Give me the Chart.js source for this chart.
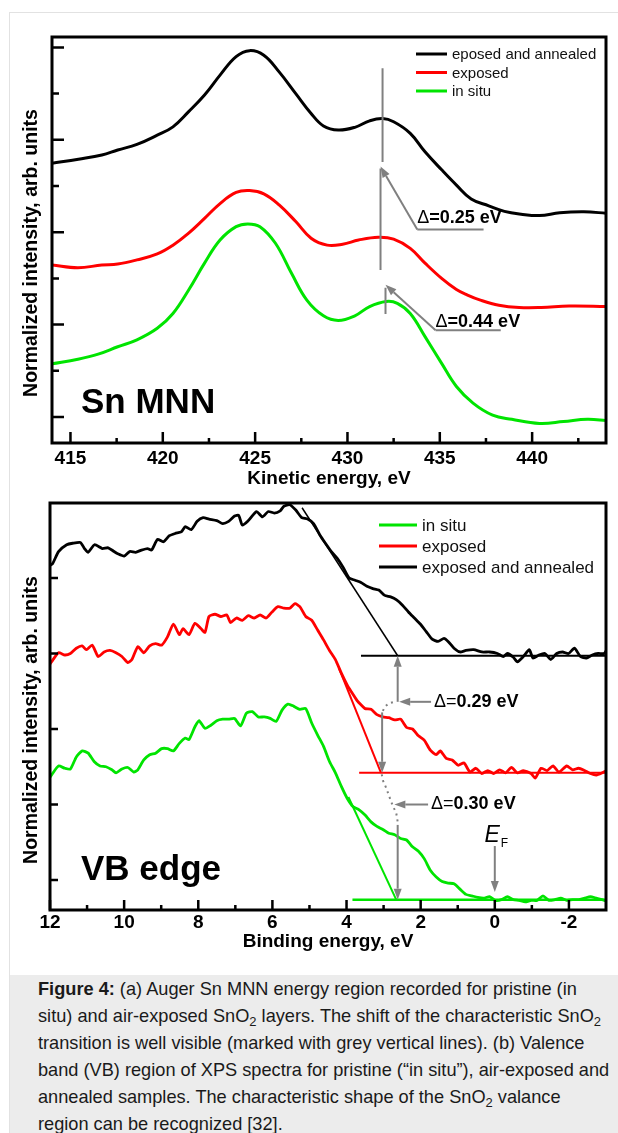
<!DOCTYPE html>
<html>
<head>
<meta charset="utf-8">
<script src="https://cdn.jsdelivr.net/npm/chart.js@4.4.1/dist/chart.umd.min.js"></script>
<style>
    html, body { margin: 0; padding: 0; background: #fff; }
    body { width: 618px; height: 1133px; position: relative; overflow: hidden; font-family: 'Liberation Sans', Arial, sans-serif; }
    .frame { position: absolute; left: 9px; top: 12px; width: 620px; height: 1130px; border: 1px solid #e2e2e2; box-sizing: border-box; }
    #augerChart { position: absolute; left: 0; top: 0; }
    #vbChart { position: absolute; left: 0; top: 495px; }
    .caption { position: absolute; left: 10px; top: 975px; width: 608px; height: 158px; background: #ececec; box-sizing: border-box; padding: 1px 0 0 28px; font-size: 18.2px; line-height: 27px; color: #1a1a1a; white-space: nowrap; }
    .caption sub { font-size: 13px; line-height: 0; vertical-align: -4px; }
</style>
</head>
<body>
<div class="frame"></div>
<canvas id="augerChart" width="618" height="495"></canvas>
<canvas id="vbChart" width="618" height="465"></canvas>
<div class="caption"><b>Figure 4:</b> (a) Auger Sn MNN energy region recorded for pristine (in<br>situ) and air-exposed SnO<sub>2</sub> layers. The shift of the characteristic SnO<sub>2</sub><br>transition is well visible (marked with grey vertical lines). (b) Valence<br>band (VB) region of XPS spectra for pristine (“in situ”), air-exposed and<br>annealed samples. The characteristic shape of the SnO<sub>2</sub> valance<br>region can be recognized [32].</div>

<script>
// ---- (a) Sn MNN Auger spectra: kinetic energy (eV) / normalized intensity (offset, arb.)
const augerKeAnnealed = [414, 415.43, 416.7, 417.56, 418.6, 419.7, 420.55, 421.4, 422.26, 423.1, 423.97, 424.7, 425.47, 426.3, 427.2, 428.03, 428.7, 429.5, 430.4, 431.2, 431.9, 432.5, 433.4, 434.2, 435.1, 435.9, 436.7, 437.65, 438.5, 439.4, 440.4, 441.5, 442.8, 444.06];
const augerAnnealed = [5.49, 5.58, 5.67, 5.78, 5.90, 6.10, 6.28, 6.61, 6.97, 7.40, 7.80, 7.93, 7.83, 7.47, 7.00, 6.57, 6.30, 6.21, 6.27, 6.41, 6.46, 6.39, 6.14, 5.74, 5.35, 5.02, 4.72, 4.57, 4.45, 4.39, 4.36, 4.42, 4.44, 4.41];

const augerKeExposed = [414, 415.4, 416.7, 417.56, 418.6, 419.7, 420.55, 421.4, 422.26, 423.1, 423.97, 424.7, 425.47, 426.3, 427.2, 428.03, 428.9, 429.74, 430.6, 431.67, 432.5, 433.4, 434.2, 435.1, 435.9, 436.5, 437.2, 438.2, 439.3, 440.5, 442, 444.06];
const augerExposed = [3.29, 3.23, 3.29, 3.31, 3.40, 3.53, 3.72, 3.98, 4.30, 4.62, 4.86, 4.90, 4.83, 4.59, 4.23, 3.87, 3.72, 3.74, 3.83, 3.89, 3.85, 3.65, 3.33, 3.00, 2.76, 2.64, 2.53, 2.42, 2.37, 2.37, 2.40, 2.39];

const augerKeInSitu = [414, 415.4, 416.5, 417.56, 418.6, 419.7, 420.55, 421.4, 422.26, 423.1, 423.97, 424.6, 425.26, 426.1, 426.97, 427.8, 428.7, 429.5, 430.4, 431.2, 432.1, 432.7, 433.4, 434.2, 435.1, 435.9, 436.8, 437.86, 438.9, 440.4, 441.7, 442.99, 444.06];
const augerInSitu = [1.15, 1.25, 1.36, 1.52, 1.67, 1.92, 2.24, 2.75, 3.33, 3.83, 4.12, 4.18, 4.12, 3.76, 3.11, 2.53, 2.19, 2.09, 2.19, 2.39, 2.50, 2.46, 2.24, 1.74, 1.16, 0.66, 0.30, 0.04, -0.05, -0.14, -0.10, -0.05, -0.08];

const augerNames = ['eposed and annealed', 'exposed', 'in situ'];
const augerMajorKe = [415, 420, 425, 430, 435, 440];
const augerMinorKe = [417.5, 422.5, 427.5, 432.5, 437.5, 442.5];
const augerMajorLevels = [0, 2, 4, 6, 8];
const augerMinorLevels = [1, 3, 5, 7];

// grey markers of the shifted transition
const augerMarkKe = [431.9, 431.79, 432.06];
const augerMarkTop = [7.55, 5.38, 2.80];
const augerMarkBottom = [5.52, 3.18, 2.23];
const augerShiftTailKe = [433.78, 434.77];
const augerShiftTailLevel = [4.06, 1.88];
const augerShiftTipKe = [431.79, 432.06];
const augerShiftTipLevel = [5.42, 2.86];
const augerShiftLineEndKe = [437.37, 438.3];
const augerShiftText = ['0.25 eV', '0.44 eV'];
const augerShiftTextLevel = [4.2, 1.95];

// ---- (b) valence band: binding energy (eV) / normalized intensity (offset, arb.)
const vbBeAnnealed = [12.06, 11.93, 11.77, 11.55, 11.39, 11.18, 11.07, 10.97, 10.8, 10.59, 10.43, 10.27, 10.17, 10.0, 9.85, 9.69, 9.53, 9.37, 9.26, 9.1, 8.94, 8.78, 8.62, 8.46, 8.35, 8.19, 8.03, 7.87, 7.71, 7.5, 7.34, 7.18, 7.02, 6.91, 6.81, 6.65, 6.43, 6.27, 6.11, 5.95, 5.79, 5.69, 5.53, 5.37, 5.21, 5.05, 4.89, 4.72, 4.57, 4.41, 4.25, 4.09, 3.93, 3.77, 3.61, 3.45, 3.29, 3.13, 2.97, 2.81, 2.65, 2.49, 2.33, 2.17, 2.01, 1.85, 1.69, 1.53, 1.37, 1.26, 1.1, 0.94, 0.78, 0.57, 0.35, 0.14, -0.07, -0.23, -0.34, -0.5, -0.61, -0.77, -0.93, -1.03, -1.19, -1.35, -1.51, -1.67, -1.83, -1.99, -2.15, -2.31, -2.47, -2.63, -2.79, -2.95, -3.06];
const vbAnnealed = [4.15, 4.19, 4.35, 4.44, 4.46, 4.47, 4.39, 4.34, 4.44, 4.39, 4.40, 4.35, 4.32, 4.29, 4.35, 4.34, 4.37, 4.39, 4.37, 4.51, 4.48, 4.56, 4.59, 4.61, 4.68, 4.64, 4.75, 4.80, 4.78, 4.76, 4.72, 4.75, 4.82, 4.83, 4.70, 4.76, 4.88, 4.81, 4.88, 4.86, 4.89, 4.95, 4.97, 4.90, 4.80, 4.78, 4.72, 4.57, 4.46, 4.35, 4.26, 4.14, 4.00, 3.97, 3.94, 3.89, 3.86, 3.84, 3.77, 3.75, 3.71, 3.64, 3.55, 3.47, 3.39, 3.29, 3.19, 3.16, 3.20, 3.16, 3.07, 3.02, 3.04, 3.05, 3.02, 3.02, 3.00, 2.96, 3.00, 2.95, 2.89, 2.96, 3.05, 2.94, 2.98, 3.00, 2.92, 3.00, 3.02, 3.00, 3.07, 2.96, 2.94, 2.98, 3.00, 3.00, 3.09];

const vbBeExposed = [12.09, 11.93, 11.77, 11.6, 11.45, 11.29, 11.13, 11.02, 10.86, 10.7, 10.54, 10.38, 10.22, 10.06, 9.9, 9.79, 9.63, 9.47, 9.31, 9.15, 8.99, 8.83, 8.67, 8.51, 8.41, 8.25, 8.09, 7.93, 7.82, 7.71, 7.55, 7.39, 7.23, 7.13, 6.97, 6.81, 6.65, 6.49, 6.33, 6.17, 6.01, 5.85, 5.69, 5.53, 5.39, 5.26, 5.1, 4.94, 4.78, 4.62, 4.46, 4.3, 4.14, 3.98, 3.88, 3.72, 3.61, 3.5, 3.34, 3.18, 3.02, 2.86, 2.7, 2.54, 2.38, 2.22, 2.06, 1.9, 1.74, 1.58, 1.47, 1.31, 1.15, 0.99, 0.83, 0.67, 0.51, 0.35, 0.19, 0.03, -0.13, -0.29, -0.45, -0.61, -0.77, -0.98, -1.09, -1.25, -1.41, -1.57, -1.73, -1.94, -2.1, -2.26, -2.42, -2.58, -2.74, -2.9, -3.06];
const vbExposed = [2.80, 2.91, 3.01, 2.98, 3.00, 3.07, 3.10, 3.05, 3.11, 2.96, 3.02, 3.04, 3.01, 2.96, 2.88, 2.92, 3.09, 3.01, 3.10, 3.13, 3.11, 3.22, 3.39, 3.25, 3.33, 3.25, 3.40, 3.33, 3.28, 3.49, 3.52, 3.49, 3.51, 3.41, 3.47, 3.44, 3.50, 3.47, 3.51, 3.47, 3.55, 3.62, 3.60, 3.60, 3.66, 3.62, 3.49, 3.44, 3.31, 3.18, 3.04, 2.92, 2.74, 2.58, 2.50, 2.38, 2.32, 2.27, 2.26, 2.19, 2.16, 2.15, 2.12, 2.13, 2.02, 2.00, 1.91, 1.85, 1.72, 1.66, 1.71, 1.61, 1.59, 1.52, 1.55, 1.43, 1.48, 1.41, 1.45, 1.41, 1.46, 1.42, 1.49, 1.42, 1.45, 1.41, 1.35, 1.48, 1.45, 1.51, 1.43, 1.51, 1.46, 1.48, 1.45, 1.41, 1.39, 1.42, 1.46];

const vbBeInSitu = [12.09, 11.93, 11.77, 11.6, 11.45, 11.29, 11.13, 10.97, 10.81, 10.65, 10.49, 10.33, 10.22, 10.06, 9.9, 9.74, 9.63, 9.47, 9.31, 9.15, 8.99, 8.83, 8.67, 8.51, 8.35, 8.25, 8.09, 7.98, 7.82, 7.66, 7.5, 7.34, 7.18, 7.02, 6.86, 6.7, 6.54, 6.38, 6.22, 6.06, 5.9, 5.74, 5.58, 5.42, 5.26, 5.1, 4.94, 4.78, 4.62, 4.46, 4.3, 4.14, 3.98, 3.82, 3.66, 3.5, 3.34, 3.18, 3.02, 2.86, 2.7, 2.54, 2.38, 2.22, 2.06, 1.9, 1.74, 1.58, 1.42, 1.26, 1.1, 0.94, 0.78, 0.62, 0.46, 0.3, 0.14, -0.02, -0.18, -0.34, -0.5, -0.66, -0.82, -0.98, -1.14, -1.3, -1.46, -1.62, -1.78, -1.94, -2.1, -2.26, -2.42, -2.58, -2.74, -2.9, -3.06];
const vbInSitu = [1.29, 1.41, 1.51, 1.48, 1.47, 1.63, 1.71, 1.68, 1.57, 1.51, 1.50, 1.46, 1.42, 1.47, 1.49, 1.43, 1.46, 1.59, 1.66, 1.68, 1.74, 1.74, 1.71, 1.81, 1.88, 1.86, 2.03, 2.11, 2.01, 2.05, 2.11, 2.13, 2.13, 2.14, 2.04, 2.21, 2.23, 2.16, 2.16, 2.14, 2.10, 2.25, 2.33, 2.30, 2.26, 2.27, 2.08, 1.92, 1.77, 1.57, 1.42, 1.24, 1.08, 0.97, 0.93, 0.86, 0.77, 0.71, 0.67, 0.62, 0.60, 0.55, 0.53, 0.44, 0.38, 0.28, 0.13, 0.04, -0.02, -0.04, -0.05, -0.12, -0.19, -0.21, -0.23, -0.24, -0.22, -0.27, -0.26, -0.22, -0.26, -0.27, -0.29, -0.27, -0.27, -0.21, -0.27, -0.26, -0.24, -0.27, -0.26, -0.26, -0.24, -0.22, -0.24, -0.26, -0.29];

const vbNames = ['in situ', 'exposed', 'exposed and annealed'];
const vbMajorBe = [12, 10, 8, 6, 4, 2, 0, -2];
const vbMinorBe = [11, 9, 7, 5, 3, 1, -1];
const vbLevels = [0, 1, 2, 3, 4];

// leading-edge fits: annealed, exposed, in situ
const vbFitStartBe = [5.2, 4.2, 3.95];
const vbFitStartLevel = [4.93, 2.80, 1.10];
const vbEdgeBe = [2.62, 3.07, 2.66];
const vbBaseStartBe = [3.61, 3.66, 3.84];
const vbBaseLevel = [2.97, 1.42, -0.26];

const vbGuide1Be = [3.02, 2.96, 2.85, 2.71];
const vbGuide1Level = [2.24, 2.30, 2.34, 2.36];
const vbGuide2Be = [3.05, 3.02, 2.93, 2.85, 2.75, 2.66, 2.62];
const vbGuide2Level = [1.40, 1.32, 1.22, 1.11, 0.98, 0.89, 0.77];

// arrows: [fromBe, fromLevel, toBe, toLevel]
const vbArrows = [
    [2.62, 2.36, 2.62, 2.97],
    [1.72, 2.36, 2.58, 2.36],
    [3.04, 2.22, 3.04, 1.42],
    [1.80, 1.00, 2.71, 1.00],
    [2.62, 0.73, 2.62, -0.26],
    [0.0, 0.45, 0.0, -0.16]
];
const vbShiftText = ['0.29 eV', '0.30 eV'];
const vbShiftTextBe = [1.64, 1.72];
const vbShiftTextLevel = [2.36, 1.00];

const BLACK = '#000000';
const RED = '#ff0000';
const GREEN = '#00e400';
const GREY = '#808080';
const FONT = "'Liberation Sans', Arial, sans-serif";

function pts(xs, ys) {
    return xs.map((x, i) => ({ x, y: ys[i] }));
}

function segment(label, xs, ys, color, width, dash) {
    return { label, data: pts(xs, ys), borderColor: color, borderWidth: width, borderDash: dash || [], pointRadius: 0, tension: 0, fill: false };
}

function drawArrow(ctx, x1, y1, x2, y2) {
    const ang = Math.atan2(y2 - y1, x2 - x1);
    const head = 11, half = 4;
    const bx = x2 - head * Math.cos(ang);
    const by = y2 - head * Math.sin(ang);
    ctx.beginPath();
    ctx.moveTo(x1, y1);
    ctx.lineTo(bx, by);
    ctx.stroke();
    ctx.beginPath();
    ctx.moveTo(x2, y2);
    ctx.lineTo(bx + half * Math.sin(ang), by - half * Math.cos(ang));
    ctx.lineTo(bx - half * Math.sin(ang), by + half * Math.cos(ang));
    ctx.closePath();
    ctx.fill();
}

// "Δ=" thin, value bold
function drawShift(ctx, x, y, value, size, boldEq) {
    ctx.textBaseline = 'middle';
    ctx.textAlign = 'left';
    ctx.font = `${size}px ${FONT}`;
    ctx.fillText('Δ', x, y);
    let w = ctx.measureText('Δ').width;
    ctx.font = `${boldEq ? 'bold ' : ''}${size}px ${FONT}`;
    ctx.fillText('=', x + w, y);
    w += ctx.measureText('=').width;
    ctx.font = `bold ${size}px ${FONT}`;
    ctx.fillText(value, x + w, y);
}

const decorPlugin = {
    id: 'decor',
    afterDatasetsDraw(chart, args, opts) {
        const { ctx, chartArea: a } = chart;
        const { x, y } = chart.scales;
        ctx.save();

        // annotations
        ctx.strokeStyle = GREY;
        ctx.fillStyle = GREY;
        ctx.lineWidth = 2;
        (opts.arrows || []).forEach(([e1, v1, e2, v2]) => {
            drawArrow(ctx, x.getPixelForValue(e1), y.getPixelForValue(v1), x.getPixelForValue(e2), y.getPixelForValue(v2));
        });
        ctx.fillStyle = BLACK;
        (opts.shifts || []).forEach(s => {
            drawShift(ctx, x.getPixelForValue(s.at[0]), y.getPixelForValue(s.at[1]), s.text, opts.shiftSize, s.boldEq);
        });
        if (opts.fermi) {
            const fx = x.getPixelForValue(opts.fermi[0]);
            const fy = y.getPixelForValue(opts.fermi[1]);
            ctx.textBaseline = 'alphabetic';
            ctx.font = `italic 23px ${FONT}`;
            ctx.fillText('E', fx, fy);
            const w = ctx.measureText('E').width;
            ctx.font = `12px ${FONT}`;
            ctx.fillText('F', fx + w + 1, fy + 5);
        }

        // frame and inward ticks
        ctx.strokeStyle = BLACK;
        ctx.lineWidth = 2.5;
        ctx.beginPath();
        const tickX = (list, len) => list.forEach(v => {
            const px = x.getPixelForValue(v);
            ctx.moveTo(px, a.bottom);
            ctx.lineTo(px, a.bottom - len);
        });
        const tickY = (list, len) => list.forEach(v => {
            const py = y.getPixelForValue(v);
            ctx.moveTo(a.left, py);
            ctx.lineTo(a.left + len, py);
        });
        tickX(opts.xMajor, opts.xLen[0]);
        tickX(opts.xMinor, opts.xLen[1]);
        tickY(opts.yMajor, opts.yLen[0]);
        tickY(opts.yMinor, opts.yLen[1]);
        ctx.stroke();
        ctx.lineWidth = 3;
        ctx.strokeRect(a.left, a.top, a.right - a.left, a.bottom - a.top);

        // legend
        const lg = opts.legend;
        ctx.font = `${lg.size}px ${FONT}`;
        ctx.textBaseline = 'middle';
        ctx.textAlign = 'left';
        lg.names.forEach((name, i) => {
            const ly = lg.y + i * lg.step;
            ctx.strokeStyle = lg.colors[i];
            ctx.lineWidth = 3;
            ctx.beginPath();
            ctx.moveTo(lg.x, ly);
            ctx.lineTo(lg.x + lg.len, ly);
            ctx.stroke();
            ctx.fillStyle = '#111';
            ctx.fillText(name, lg.x + lg.len + 5, ly + 1);
        });

        // panel label
        ctx.fillStyle = BLACK;
        ctx.font = `bold 35px ${FONT}`;
        ctx.textBaseline = 'alphabetic';
        ctx.fillText(opts.panel, opts.panelAt[0], opts.panelAt[1]);

        // y axis title
        ctx.save();
        ctx.translate(opts.yTitleAt[0], opts.yTitleAt[1]);
        ctx.rotate(-Math.PI / 2);
        ctx.font = `bold 19.5px ${FONT}`;
        ctx.textAlign = 'center';
        ctx.textBaseline = 'middle';
        ctx.fillText('Normalized intensity, arb. units', 0, 0);
        ctx.restore();

        ctx.restore();
    }
};

function axisX(min, max, major, labels, title, height, pad, titlePad, reverse) {
    return {
        type: 'linear', min, max, reverse: !!reverse,
        afterBuildTicks: s => { s.ticks = major.map(value => ({ value })); },
        afterFit: s => { s.height = height; },
        grid: { display: false, drawTicks: false },
        border: { display: false },
        ticks: {
            autoSkip: false, maxRotation: 0, padding: pad, color: BLACK,
            font: { family: FONT, size: 19, weight: 'bold' },
            callback: v => labels[major.indexOf(v)]
        },
        title: { display: true, text: title, color: BLACK, font: { family: FONT, size: 19, weight: 'bold' }, padding: { top: 0, bottom: titlePad } }
    };
}

new Chart(document.getElementById('augerChart'), {
    type: 'line',
    data: {
        datasets: [
            segment('mark 1', [augerMarkKe[0], augerMarkKe[0]], [augerMarkTop[0], augerMarkBottom[0]], GREY, 2),
            segment('mark 2', [augerMarkKe[1], augerMarkKe[1]], [augerMarkTop[1], augerMarkBottom[1]], GREY, 2),
            segment('mark 3', [augerMarkKe[2], augerMarkKe[2]], [augerMarkTop[2], augerMarkBottom[2]], GREY, 2),
            segment('leader 1', [augerShiftTailKe[0], augerShiftLineEndKe[0]], [augerShiftTailLevel[0], augerShiftTailLevel[0]], GREY, 2),
            segment('leader 2', [augerShiftTailKe[1], augerShiftLineEndKe[1]], [augerShiftTailLevel[1], augerShiftTailLevel[1]], GREY, 2),
            { label: augerNames[0], data: pts(augerKeAnnealed, augerAnnealed), borderColor: BLACK, borderWidth: 3, pointRadius: 0, tension: 0.4 },
            { label: augerNames[1], data: pts(augerKeExposed, augerExposed), borderColor: RED, borderWidth: 3, pointRadius: 0, tension: 0.4 },
            { label: augerNames[2], data: pts(augerKeInSitu, augerInSitu), borderColor: GREEN, borderWidth: 3, pointRadius: 0, tension: 0.4 }
        ]
    },
    options: {
        responsive: false,
        animation: false,
        layout: { padding: { top: 37, left: 52, right: 12, bottom: 0 } },
        plugins: {
            legend: { display: false },
            tooltip: { enabled: false },
            decor: {
                xMajor: augerMajorKe, xMinor: augerMinorKe, xLen: [11, 5],
                yMajor: augerMajorLevels, yMinor: augerMinorLevels, yLen: [12, 7],
                arrows: augerShiftTailKe.map((k, i) => [k, augerShiftTailLevel[i], augerShiftTipKe[i], augerShiftTipLevel[i]]),
                shifts: augerShiftText.map((t, i) => ({ text: t, at: [augerShiftTailKe[i], augerShiftTextLevel[i] + 0.1], boldEq: true })),
                shiftSize: 18,
                legend: { names: augerNames, colors: [BLACK, RED, GREEN], x: 416, y: 54, step: 18.5, len: 31, size: 15 },
                panel: 'Sn MNN', panelAt: [81, 413],
                yTitleAt: [31.5, 253]
            }
        },
        scales: {
            x: axisX(414, 444, augerMajorKe, augerMajorKe.map(String), 'Kinetic energy, eV', 52, 4, 5),
            y: { type: 'linear', display: false, min: -0.563, max: 8.225 }
        }
    },
    plugins: [decorPlugin]
});

new Chart(document.getElementById('vbChart'), {
    type: 'line',
    data: {
        datasets: [
            segment('guide 1', vbGuide1Be, vbGuide1Level, GREY, 2, [2, 4]),
            segment('guide 2', vbGuide2Be, vbGuide2Level, GREY, 2, [2, 4]),
            segment('fit annealed', [vbFitStartBe[0], vbEdgeBe[0]], [vbFitStartLevel[0], vbBaseLevel[0]], BLACK, 1.5),
            segment('fit exposed', [vbFitStartBe[1], vbEdgeBe[1]], [vbFitStartLevel[1], vbBaseLevel[1]], RED, 2),
            segment('fit in situ', [vbFitStartBe[2], vbEdgeBe[2]], [vbFitStartLevel[2], vbBaseLevel[2]], GREEN, 2),
            segment('base annealed', [vbBaseStartBe[0], -3], [vbBaseLevel[0], vbBaseLevel[0]], BLACK, 2),
            segment('base exposed', [vbBaseStartBe[1], -3], [vbBaseLevel[1], vbBaseLevel[1]], RED, 2),
            segment('base in situ', [vbBaseStartBe[2], -3], [vbBaseLevel[2], vbBaseLevel[2]], GREEN, 2.5),
            { label: vbNames[2], data: pts(vbBeAnnealed, vbAnnealed), borderColor: BLACK, borderWidth: 2.8, pointRadius: 0, tension: 0.2 },
            { label: vbNames[1], data: pts(vbBeExposed, vbExposed), borderColor: RED, borderWidth: 2.8, pointRadius: 0, tension: 0.2 },
            { label: vbNames[0], data: pts(vbBeInSitu, vbInSitu), borderColor: GREEN, borderWidth: 2.8, pointRadius: 0, tension: 0.2 }
        ]
    },
    options: {
        responsive: false,
        animation: false,
        layout: { padding: { top: 8, left: 50, right: 12, bottom: 0 } },
        plugins: {
            legend: { display: false },
            tooltip: { enabled: false },
            decor: {
                xMajor: vbMajorBe, xMinor: vbMinorBe, xLen: [10, 5],
                yMajor: vbLevels, yMinor: [], yLen: [8, 8],
                arrows: vbArrows,
                shifts: vbShiftText.map((t, i) => ({ text: t, at: [vbShiftTextBe[i], vbShiftTextLevel[i]], boldEq: false })),
                shiftSize: 18,
                fermi: [0.28, 0.506],
                legend: { names: vbNames, colors: [GREEN, RED, BLACK], x: 379, y: 30, step: 21, len: 38, size: 17 },
                panel: 'VB edge', panelAt: [81, 385],
                yTitleAt: [31.5, 225]
            }
        },
        scales: {
            x: axisX(-3, 12, vbMajorBe, vbMajorBe.map(String), 'Binding energy, eV', 50, 1, 7, true),
            y: { type: 'linear', display: false, min: -0.397, max: 4.993 }
        }
    },
    plugins: [decorPlugin]
});
</script>
</body>
</html>
